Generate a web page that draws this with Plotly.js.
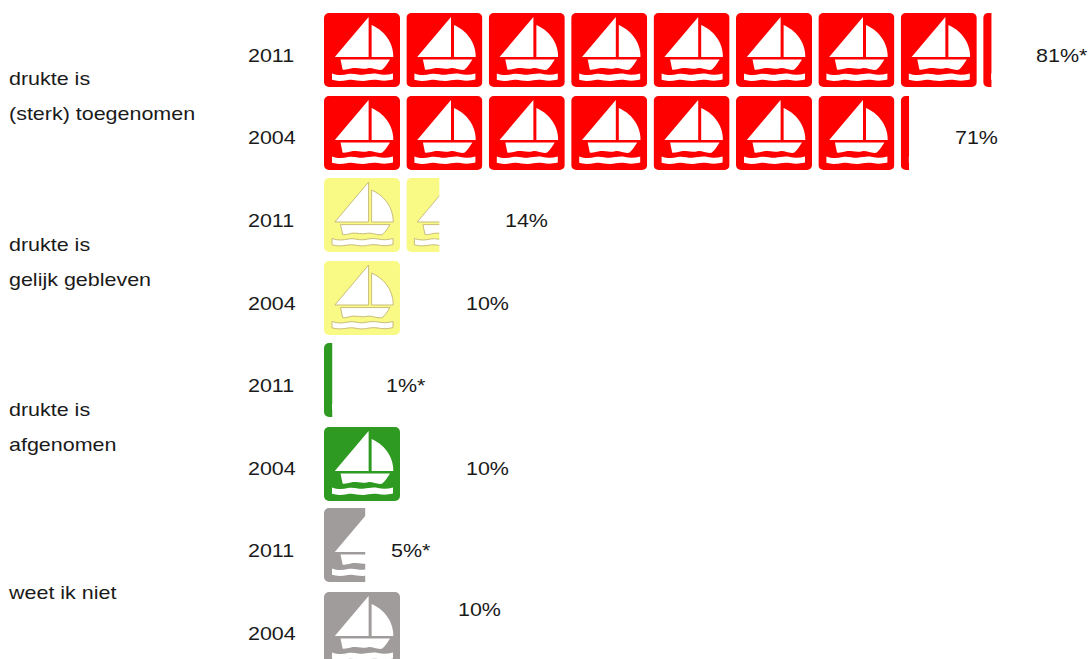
<!DOCTYPE html>
<html><head><meta charset="utf-8">
<script src="https://cdn.plot.ly/plotly-3.0.1.min.js"></script>
<style>html,body{margin:0;padding:0;background:#fff;overflow:hidden}#c{width:1088px;height:659px}</style>
</head><body><div id="c"></div>
<script>
// ---- data ----
const years = ['2011','2004','2011','2004','2011','2004','2011','2004'];
const values = [81,71,14,10,1,10,5,10];
const valueLabels = ['81%*','71%','14%','10%','1%*','10%','5%*','10%'];
const groupLabels = ['drukte is','(sterk) toegenomen','drukte is','gelijk gebleven','drukte is','afgenomen','weet ik niet'];
const rowCategory = ['up','up','same','same','down','down','dk','dk'];
const unitPerIcon = 10;

// ---- layout of the picture (pixels) ----
const W = 1088, H = 659, X0 = 324, PX_PER_UNIT = 8.24;
const ICON_W = 76, ICON_H = 74;
const rowTop = [13,96,178,261,343,427,508,592];
const TEXT_DY = 1.5, TEXT_SCALE_X = 1.155;
const yearY = [56,138,221,304,386,469,551,634];
const labelX = [1036,955,505,466,386,466,391,458];
const labelY = [56,138,221,304,386,469,551,610];
const groupX = 9, groupY = [79,114,245,280,410,445,593];
const yearX = 248;
const FONT = {family:'"Liberation Sans", Arial, sans-serif', size:18.6, color:'#1a1a1a'};
const styles = {
  up:{bg:'#fe0000', fg:'#ffffff', edge:'none'},
  same:{bg:'#f9f985', fg:'#ffffff', edge:'#c9bd7a'},
  down:{bg:'#2f9a20', fg:'#ffffff', edge:'none'},
  dk:{bg:'#a19c9c', fg:'#ffffff', edge:'none'}
};
const toX = px => (px - X0) / PX_PER_UNIT;
const shiftY = a => a.map(y => y + TEXT_DY);

function iconUri(st, widthPx){
  const stroke = st.edge === 'none' ? '' : ` stroke="${st.edge}" stroke-width="1"`;
  const svg = `<svg xmlns="http://www.w3.org/2000/svg" width="${widthPx}" height="${ICON_H}" viewBox="0 0 ${widthPx} ${ICON_H}" preserveAspectRatio="none">
<defs><filter id="b" x="-5%" y="-5%" width="110%" height="110%"><feGaussianBlur stdDeviation="0.7"/></filter></defs>
<g filter="url(#b)"><rect x="0" y="0" width="${ICON_W}" height="${ICON_H}" rx="5" ry="5" fill="${st.bg}"/>
<g fill="${st.fg}"${stroke}>
<path d="M44.6 4 L10.8 44 L44.6 44 Z"/>
<path d="M47.6 12 C59 17 69.3 28 69.3 44 L47.6 44 Z"/>
<path d="M16.5 46.6 L66 46.6 C63.5 50.5 61.5 54 58 56.8 C52 57.5 49 54.6 44 55.2 C38 56.8 33 54.6 28 55.2 C24 56.4 20 57 18.6 56.5 Z"/>
<path d="M8 60.5 C14 62.6 19 62.2 24 61 C30 59.8 34 62.2 39 61.8 C45 61 49 59.8 54 61 C59 62.2 64 61.8 69 60.5 L69 66.6 C63 68 59 68 54 67 C48 66 44 67.4 39 68 C33 68 29 66 24 67 C18 68 13 68.4 8 66.8 Z"/>
</g></g></svg>`;
  return 'data:image/svg+xml;charset=utf-8,' + encodeURIComponent(svg);
}

const images = [];
values.forEach((v,i)=>{
  const st = styles[rowCategory[i]];
  const whole = Math.floor(v / unitPerIcon), rest = v - whole * unitPerIcon;
  for(let k=0;k<=whole;k++){
    const isPart = k === whole;
    if(isPart && rest === 0) break;
    const wPx = isPart ? rest * PX_PER_UNIT : ICON_W;
    images.push({source: iconUri(st, wPx), xref:'x', yref:'y', x:k*unitPerIcon, y:rowTop[i],
      sizex:wPx/PX_PER_UNIT, sizey:ICON_H, xanchor:'left', yanchor:'top', sizing:'stretch', layer:'below'});
  }
});

const textTrace = (xs, ys, texts) => ({type:'scatter', mode:'text', x:xs, y:ys, text:texts,
  textposition:'middle right', textfont:FONT, hoverinfo:'skip', showlegend:false, cliponaxis:false});

const traces = [
  textTrace(groupLabels.map(()=>toX(groupX)), shiftY(groupY), groupLabels),
  textTrace(years.map(()=>toX(yearX)), shiftY(yearY), years),
  textTrace(labelX.map(toX), shiftY(labelY), valueLabels)
];

const layout = {
  width:W, height:H, margin:{l:0,r:0,t:0,b:0}, paper_bgcolor:'#fff', plot_bgcolor:'#fff',
  showlegend:false, images,
  xaxis:{range:[toX(0), toX(W)], visible:false, fixedrange:true},
  yaxis:{range:[H,0], visible:false, fixedrange:true}
};
Plotly.newPlot('c', traces, layout, {displayModeBar:false, staticPlot:true}).then(gd=>{
  // the reference's lettering is slightly stretched sideways
  gd.querySelectorAll('.textpoint text').forEach(t=>{
    const x = parseFloat(t.getAttribute('x'));
    t.setAttribute('transform', `translate(${x} 0) scale(${TEXT_SCALE_X} 1) translate(${-x} 0)`);
  });
});
</script></body></html>
